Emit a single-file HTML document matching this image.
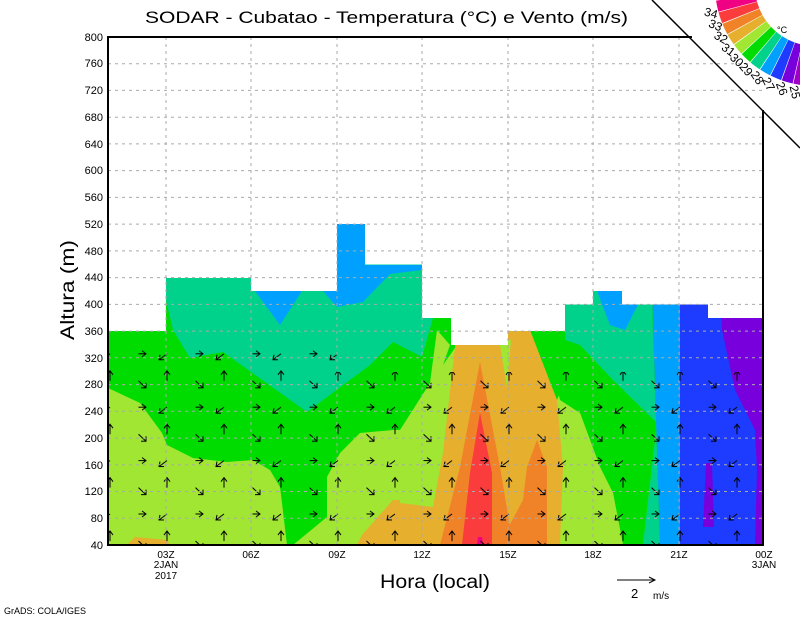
<!DOCTYPE html>
<html><head><meta charset="utf-8"><style>
html,body{margin:0;padding:0;background:#fff;}
svg{display:block;font-family:"Liberation Sans",sans-serif;}
</style></head><body>
<svg width="800" height="618" viewBox="0 0 800 618" xmlns="http://www.w3.org/2000/svg">
<rect width="800" height="618" fill="#fff"/>
<defs>
<clipPath id="c"><rect x="108" y="37" width="655" height="508"/></clipPath>
<pattern id="arr" patternUnits="userSpaceOnUse" x="96" y="501" width="57" height="53.4">
<g stroke="#000" stroke-width="1" fill="none">
<line x1="14" y1="13" x2="6" y2="19"/><polyline points="7,14 6,19 11,19"/>
<line x1="42.5" y1="13" x2="50" y2="13"/><polyline points="46,10 50,13 46,16"/>
<line x1="14" y1="40" x2="14" y2="30"/><polyline points="11,34 14,30 17,34"/>
<line x1="42.5" y1="40" x2="50" y2="47"/><polyline points="45,47 50,47 50,42"/>
</g>
</pattern>
</defs>
<g clip-path="url(#c)">
<rect x="108" y="200" width="655" height="345" fill="#00dc00"/>
<polygon fill="#00d28c" points="166,278 251,278 251,291 337,291 337,224 422,224 422,318 433,318 422,357 393,342 370,365 307,412 223,352 190,358 173,330 166,300"/>
<polygon fill="#00a0ff" points="255,291 302,291 280,325"/>
<polygon fill="#00a0ff" points="323,291 337,291 337,224 366,224 366,265 422,265 422,270 390,274 363,302 337,307"/>
<polygon fill="#a0e632" points="108,388 123,395 140,403 162,433 167,445 193,458 227,462 253,460 270,470 280,487 282,503 287,545 108,545"/>
<polygon fill="#a0e632" points="293,545 327,517 327,477 340,453 360,433 393,430 400,430 430,383 437,330 450,345 443,365 457,345 530,333 557,400 580,345 613,380 657,423 643,545"/>
<polygon fill="#00dc00" points="545,330 565,330 580,345 613,380 657,423 643,545 623,545 613,493 600,467 580,413 560,400"/>
<polygon fill="#a0e632" points="557,400 580,413 600,467 613,493 623,545 560,545 563,467"/>
<polygon fill="#00d28c" points="565,304 593,304 593,291 652,291 652,305 660,545 643,545 657,423 613,380 580,345 565,340"/>
<polygon fill="#00a0ff" points="597,291 645,291 625,330 610,325"/>
<polygon fill="#00a0ff" points="652,291 680,291 680,545 660,545"/>
<polygon fill="#1e3cff" points="680,291 763,291 763,545 680,545"/>
<polygon fill="#7800dc" points="720,291 763,291 763,545 755,545 757,470 755,430 735,390 722,330"/>
<polygon fill="#7800dc" points="706,463 712,463 714,527 703,527"/>
<polygon fill="#e6af2d" points="457,330 530,330 557,400 563,467 560,545 400,545 400,503 433,507 443,453"/>
<polygon fill="#a0e632" points="499,340 511,340 507,387"/>
<polygon fill="#e6af2d" points="127,545 135,537 167,540 170,545"/>
<polygon fill="#e6af2d" points="357,545 362,535 393,500 400,500 400,545"/>
<polygon fill="#f08228" points="480,362 500,467 510,527 507,530 523,500 527,467 537,440 547,467 547,545 440,545 460,467"/>
<polygon fill="#fa3c3c" points="480,413 492,473 492,545 462,545 470,473"/>
<polygon fill="#f00082" points="478,537 482,537 483,545 477,545"/>
<polygon fill="#fff" points="108,37 763,37 763,318 708,318 708,304.5 622,304.5 622,291 593,291 593,304.5 565,304.5 565,331 508,331 508,345 451,345 451,318 422,318 422,264.5 365,264.5 365,224 337,224 337,291 251,291 251,278 166,278 166,331 108,331"/>
<rect x="108" y="372" width="655" height="173" fill="url(#arr)"/>
<rect x="108" y="345" width="229" height="27" fill="url(#arr)"/>
</g>
<g stroke="#aaa" stroke-width="1" stroke-dasharray="3,4">
<line x1="108" x2="763" y1="518.3" y2="518.3"/><line x1="108" x2="763" y1="491.5" y2="491.5"/>
<line x1="108" x2="763" y1="464.8" y2="464.8"/><line x1="108" x2="763" y1="438.1" y2="438.1"/>
<line x1="108" x2="763" y1="411.3" y2="411.3"/><line x1="108" x2="763" y1="384.6" y2="384.6"/>
<line x1="108" x2="763" y1="357.8" y2="357.8"/><line x1="108" x2="763" y1="331.1" y2="331.1"/>
<line x1="108" x2="763" y1="304.4" y2="304.4"/><line x1="108" x2="763" y1="277.6" y2="277.6"/>
<line x1="108" x2="763" y1="250.9" y2="250.9"/><line x1="108" x2="763" y1="224.1" y2="224.1"/>
<line x1="108" x2="763" y1="197.4" y2="197.4"/><line x1="108" x2="763" y1="170.6" y2="170.6"/>
<line x1="108" x2="763" y1="143.9" y2="143.9"/><line x1="108" x2="763" y1="117.2" y2="117.2"/>
<line x1="108" x2="763" y1="90.4" y2="90.4"/><line x1="108" x2="763" y1="63.7" y2="63.7"/>
<line x1="166" x2="166" y1="37" y2="545"/><line x1="251" x2="251" y1="37" y2="545"/>
<line x1="337" x2="337" y1="37" y2="545"/><line x1="422" x2="422" y1="37" y2="545"/>
<line x1="508" x2="508" y1="37" y2="545"/><line x1="593" x2="593" y1="37" y2="545"/>
<line x1="679" x2="679" y1="37" y2="545"/>
</g>
<polyline points="692,37 108,37 108,545 763,545 763,110" fill="none" stroke="#000" stroke-width="2"/>
<line x1="652" y1="0" x2="800" y2="148" stroke="#000" stroke-width="1.5"/>
<g font-size="11" text-anchor="end">
<text x="103" y="549">40</text><text x="103" y="522">80</text><text x="103" y="495">120</text>
<text x="103" y="469">160</text><text x="103" y="442">200</text><text x="103" y="415">240</text>
<text x="103" y="388">280</text><text x="103" y="362">320</text><text x="103" y="335">360</text>
<text x="103" y="308">400</text><text x="103" y="281">440</text><text x="103" y="255">480</text>
<text x="103" y="228">520</text><text x="103" y="201">560</text><text x="103" y="174">600</text>
<text x="103" y="148">640</text><text x="103" y="121">680</text><text x="103" y="94">720</text>
<text x="103" y="67">760</text><text x="103" y="41">800</text>
</g>
<g font-size="10" text-anchor="middle">
<text x="166" y="558">03Z</text><text x="166" y="568">2JAN</text><text x="166" y="579">2017</text>
<text x="251" y="558">06Z</text><text x="337" y="558">09Z</text><text x="422" y="558">12Z</text>
<text x="508" y="558">15Z</text><text x="593" y="558">18Z</text><text x="679" y="558">21Z</text>
<text x="764" y="558">00Z</text><text x="764" y="568">3JAN</text>
</g>
<text x="145" y="23" font-size="17" textLength="483" lengthAdjust="spacingAndGlyphs">SODAR - Cubatao - Temperatura (°C) e Vento (m/s)</text>
<text x="380" y="588" font-size="19" textLength="110" lengthAdjust="spacingAndGlyphs">Hora (local)</text>
<text transform="translate(74,340) rotate(-90)" font-size="19" textLength="100" lengthAdjust="spacingAndGlyphs">Altura (m)</text>
<text x="4" y="614" font-size="9">GrADS: COLA/IGES</text>
<line x1="617" y1="580" x2="655" y2="580" stroke="#000"/>
<polyline points="649,577 655,580 649,583" fill="none" stroke="#000"/>
<text x="631" y="598" font-size="13">2</text><text x="653" y="599" font-size="10">m/s</text>
<g fill="none" stroke-width="40">
<circle cx="815" cy="-14" r="80" stroke="#f00082" stroke-dasharray="9.1 600" transform="rotate(165.09 815 -14)"/>
<circle cx="815" cy="-14" r="80" stroke="#fa3c3c" stroke-dasharray="9.1 600" transform="rotate(158.18 815 -14)"/>
<circle cx="815" cy="-14" r="80" stroke="#f08228" stroke-dasharray="9.1 600" transform="rotate(151.27 815 -14)"/>
<circle cx="815" cy="-14" r="80" stroke="#e6af2d" stroke-dasharray="9.1 600" transform="rotate(144.36 815 -14)"/>
<circle cx="815" cy="-14" r="80" stroke="#a0e632" stroke-dasharray="9.1 600" transform="rotate(137.45 815 -14)"/>
<circle cx="815" cy="-14" r="80" stroke="#00dc00" stroke-dasharray="9.1 600" transform="rotate(130.55 815 -14)"/>
<circle cx="815" cy="-14" r="80" stroke="#00d28c" stroke-dasharray="9.1 600" transform="rotate(123.64 815 -14)"/>
<circle cx="815" cy="-14" r="80" stroke="#00a0ff" stroke-dasharray="9.1 600" transform="rotate(116.73 815 -14)"/>
<circle cx="815" cy="-14" r="80" stroke="#1e3cff" stroke-dasharray="9.1 600" transform="rotate(109.82 815 -14)"/>
<circle cx="815" cy="-14" r="80" stroke="#7800dc" stroke-dasharray="9.1 600" transform="rotate(102.91 815 -14)"/>
<circle cx="815" cy="-14" r="80" stroke="#a000c8" stroke-dasharray="9.1 600" transform="rotate(96 815 -14)"/>
</g>
<g font-size="12" text-anchor="middle">
<text x="710" y="17" transform="rotate(15 710 17)">34</text>
<text x="714" y="29" transform="rotate(22 714 29)">33</text>
<text x="719" y="41" transform="rotate(29 719 41)">32</text>
<text x="726" y="53" transform="rotate(36 726 53)">31</text>
<text x="734" y="63" transform="rotate(43 734 63)">30</text>
<text x="743" y="72" transform="rotate(49 743 72)">29</text>
<text x="754" y="80" transform="rotate(56 754 80)">28</text>
<text x="765" y="86" transform="rotate(63 765 86)">27</text>
<text x="778" y="90" transform="rotate(70 778 90)">26</text>
<text x="791" y="93" transform="rotate(77 791 93)">25</text>
</g>
<text x="777" y="33" font-size="9">°C</text>
</svg>
</body></html>
